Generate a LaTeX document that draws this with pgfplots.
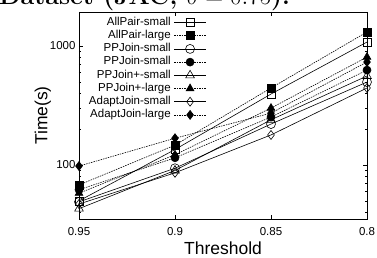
\documentclass[border=0pt]{standalone}
\usepackage{fontspec}
\setsansfont{Liberation Sans}
\usepackage{pgfplots}
\pgfplotsset{compat=1.18}
\begin{document}
\begin{tikzpicture}
\useasboundingbox (-79pt,-38pt) rectangle (298pt,219pt);
\node[anchor=base west, inner sep=0pt, font=\fontsize{25}{30}\selectfont\rmfamily\bfseries] at (-80pt,214pt) {Dataset (JAC, $\delta = 0.75$):};
\begin{axis}[
  scale only axis, width=288pt, height=207pt,
  at={(0pt,0pt)}, anchor=south west,
  x dir=reverse, xmin=0.8, xmax=0.95,
  xtick={0.95,0.9,0.85,0.8}, xticklabels={0.95,0.9,0.85,0.8},
  ymode=log, ymin=35.2, ymax=1932,
  log ticks with fixed point,
  /pgf/number format/1000 sep={},
  /pgf/number format/assume math mode=true,
  tick align=inside, tick pos=both,
  major tick length=4pt, minor tick length=2pt,
  tick style={black, line width=0.5pt},
  axis line style={line width=0.8pt},
  ticklabel style={font=\sffamily\fontsize{11.5}{13}\selectfont},
  xticklabel style={yshift=-5pt},
  xlabel={Threshold}, ylabel={Time(s)},
  label style={font=\sffamily\fontsize{17.5}{20}\selectfont},
  xlabel style={yshift=-2.5pt, inner sep=0.5pt, text depth=0pt},
  ylabel style={yshift=-8pt},
  legend plot pos=right,
  legend cell align=right,
  legend style={at={(axis description cs:0.02,0.99)}, anchor=north west, draw=none, fill=none,
    font=\sffamily\fontsize{11.5}{13}\selectfont,
    nodes={inner sep=1pt, text height=8pt, text depth=2.5pt},
    row sep=0.7pt, column sep=2pt},
  legend image code/.code={\draw[mark repeat=2,mark phase=2,#1] plot coordinates {(0pt,0pt) (16pt,0pt) (32pt,0pt)};},
  every axis plot/.append style={black, line width=0.6pt},
]
\addplot[solid, mark=square, mark size=4pt, mark options={solid, fill=white}] coordinates {(0.95,50) (0.9,135) (0.85,395) (0.8,1080)};
\addlegendentry{AllPair-small}
\addplot[dash pattern=on 1.5pt off 1pt, mark=square*, mark size=4pt, mark options={solid}] coordinates {(0.95,68) (0.9,147) (0.85,444) (0.8,1312)};
\addlegendentry{AllPair-large}
\addplot[solid, mark=o, mark size=4.5pt, mark options={solid, fill=white}] coordinates {(0.95,49) (0.9,94) (0.85,221) (0.8,498)};
\addlegendentry{PPJoin-small}
\addplot[dash pattern=on 1.5pt off 1pt, mark=*, mark size=4pt, mark options={solid}] coordinates {(0.95,62) (0.9,115) (0.85,253) (0.8,628)};
\addlegendentry{PPJoin-small}
\addplot[solid, mark=triangle, mark size=5pt, mark options={solid, fill=white}] coordinates {(0.95,43) (0.9,90) (0.85,240) (0.8,560)};
\addlegendentry{PPJoin+-small}
\addplot[dash pattern=on 1.5pt off 1pt, mark=triangle*, mark size=4.5pt, mark options={solid}] coordinates {(0.95,58) (0.9,122) (0.85,301) (0.8,808)};
\addlegendentry{PPJoin+-large}
\addplot[solid, mark=diamond, mark size=4.5pt, mark options={solid, fill=white}] coordinates {(0.95,47) (0.9,86) (0.85,179) (0.8,444)};
\addlegendentry{AdaptJoin-small}
\addplot[dash pattern=on 1.5pt off 1pt, mark=diamond*, mark size=4.5pt, mark options={solid}] coordinates {(0.95,98) (0.9,168) (0.85,273) (0.8,734)};
\addlegendentry{AdaptJoin-large}
\end{axis}
\end{tikzpicture}
\end{document}
